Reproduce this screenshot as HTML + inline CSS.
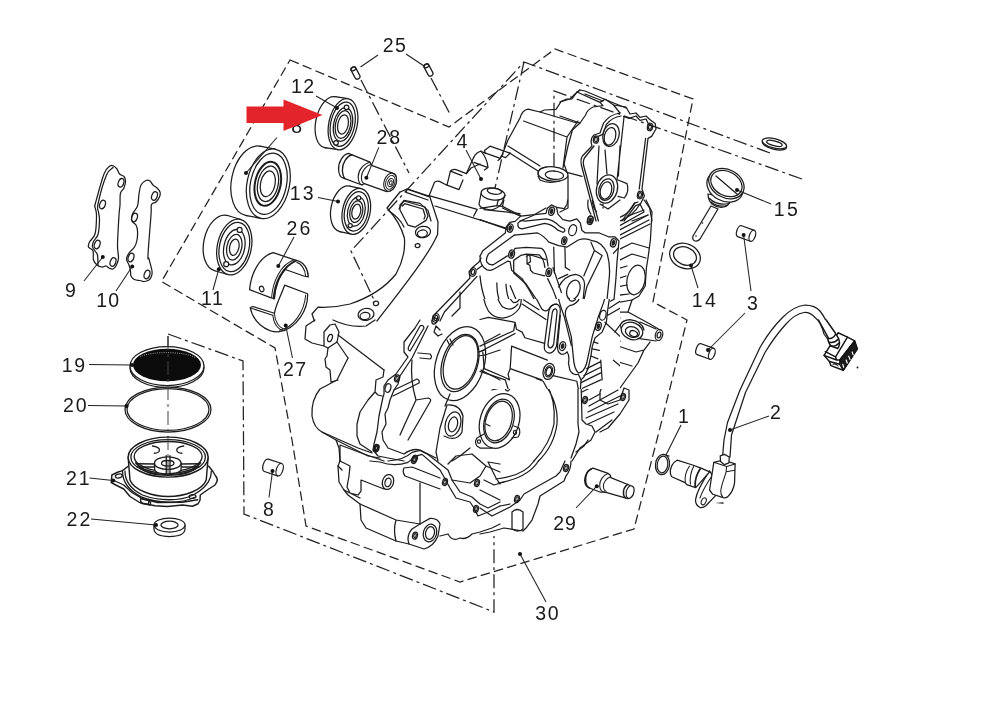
<!DOCTYPE html>
<html><head><meta charset="utf-8"><title>Crankcase exploded view</title>
<style>
html,body{margin:0;padding:0;background:#fff;}
body{width:1000px;height:705px;overflow:hidden;}
svg{display:block;will-change:transform;}
.s{fill:none;stroke:#1c1c1c;stroke-width:1.25;stroke-linecap:round;stroke-linejoin:round;}
.sf{fill:#fff;stroke:#1c1c1c;stroke-width:1.25;stroke-linejoin:round;}
.t{fill:none;stroke:#333;stroke-width:0.8;stroke-linecap:round;stroke-linejoin:round;}
.w{fill:#fff;stroke:none;}
.c{fill:none;stroke:#1c1c1c;stroke-linecap:round;stroke-linejoin:round;}
.ck{fill:#222;stroke:none;}
.cf{fill:#fff;stroke:#1c1c1c;stroke-linecap:round;stroke-linejoin:round;}
.l{fill:none;stroke:#222;stroke-width:1.05;}
.d{fill:#111;stroke:none;}
.da{fill:none;stroke:#222;stroke-width:1.25;stroke-dasharray:9.5 4.3;}
.dd{fill:none;stroke:#222;stroke-width:1.25;stroke-dasharray:14 4 3 4;}
text{font-family:"Liberation Sans",sans-serif;fill:#1a1a1a;}
</style></head><body>
<svg width="1000" height="705" viewBox="0 0 1000 705">
<rect width="1000" height="705" fill="#fff"/>
<g id="dashes">
<path class="da" d="M290,60 L449,127 L555,49 L693,99 L669,220 L653,302 L687,320 L662,420 L634,529 L460,582 L306,526 L292,440 L275,348 L161.5,281.5 Z"/>
<path class="dd" d="M168,334 L243,361 L244,514 L494,612 L494,536"/>
<path class="dd" d="M168,336 L168,476"/>
<path class="dd" d="M361,80 L409,173"/>
<path class="dd" d="M431,78 L451,116"/>
<path class="dd" d="M770,153 L524,62 L351,251 L375,302"/>
<path class="dd" d="M524,62 L495,188"/>
<path class="dd" d="M802,179 L554,91 L554,172"/>
</g>
<g id="crankcase">
<g transform="translate(380 80) scale(0.2000)" style="stroke-width:6.25">
<path class="c" d="M100,560 L135,546 L245,580 L272,512 Q282,502 297,507 L335,526 L352,456 Q362,444 380,448 L432,468 L468,388 Q482,362 505,356 L527,366 L522,352 L550,331 L650,366"/>
<path class="c" d="M505,356 Q535,390 540,438 L522,450 M540,438 L470,412 M432,468 L455,440 L500,420"/>
<path class="c" d="M527,366 L602,392 L606,380 L628,388 L650,366 M602,392 L590,402"/>
<path class="c" d="M335,526 L395,548 L415,500 M352,456 L410,478"/>
<path class="c" d="M245,578 L486,647 L468,681 M275,630 L631,741 M520,648 L700,668"/>
<path class="c" d="M135,546 L130,562 L240,600"/>
<path class="c" d="M606,385 L640,300 L700,190 Q712,150 740,146 L800,160 L822,150 L880,147 L905,108 L950,95 L975,70 L1000,50"/>
<path class="c" d="M800,160 L985,215 M718,205 L935,285 L990,205 M935,285 L915,440"/>
<path class="c" d="M640,330 L800,430"/>
<path class="c" d="M95,645 L120,602 L200,617 L240,652 L255,705"/>
<path class="c" d="M505,570 L495,620 Q500,640 530,645 L555,650 Q600,640 612,610 L625,575"/>
<path class="c" d="M790,470 Q790,440 830,436 M940,480 L940,640 L900,660 M790,480 L800,500 Q840,520 900,505"/>
<path class="c" d="M650,366 L790,455"/>
<path class="c" d="M700,705 L760,680 L830,640 M612,640 L700,680"/>
<ellipse class="c" cx="565" cy="570" rx="60" ry="30" transform="rotate(8 565 570)"/>
<ellipse class="c" cx="572" cy="556" rx="36" ry="15" transform="rotate(8 572 556)"/>
<ellipse class="c" cx="865" cy="470" rx="75" ry="36" transform="rotate(5 865 470)"/>
<ellipse class="c" cx="872" cy="476" rx="46" ry="21" transform="rotate(5 872 476)"/>
</g>
<g transform="translate(560 80) scale(0.2000)" style="stroke-width:6.25">
<path class="c" d="M0,110 L30,96 L60,95 L85,60 L100,50 L125,55 L232,100 L268,125 L330,135 L350,170 L380,165 L400,187 L430,180 L452,200 L476,218 L480,245 L458,282 L440,292 L410,545 L422,580 L402,620 L378,628 L320,705"/>
<path class="c" d="M85,60 L200,112 L225,96 M200,112 L215,128 L165,135 Q135,150 128,175 L100,215 L0,180"/>
<path class="c" d="M125,70 L215,105 M232,100 L330,140 M268,125 L300,165"/>
<path class="c" d="M100,215 L62,250 L40,330 L20,420 L35,462 L110,482"/>
<path class="c" d="M300,165 Q250,172 218,215 L200,265 L170,275 Q148,295 160,330 L112,380 Q100,400 108,430 L180,705"/>
<path class="c" d="M305,180 Q262,185 232,222 L214,272 L190,282 M170,330 L122,390 Q112,410 120,435 L192,705"/>
<path class="c" d="M318,182 L345,192 L380,180 L400,202 L430,195 L440,215 M428,292 L396,545 M390,610 L372,616 L310,705"/>
<path class="c" d="M320,185 L285,500 M300,330 L292,480 M195,330 L185,520 M225,350 L235,470"/>
<path class="c" d="M290,500 L335,518 Q348,555 322,590 L290,582"/>
<path class="c" d="M200,620 L240,645 L300,600 M215,620 L215,640"/>
<path class="c" d="M420,600 L448,640 L460,705 M340,680 L420,650 M360,705 L440,675"/>
<ellipse class="c" cx="255" cy="275" rx="40" ry="58" transform="rotate(15 255 275)"/>
<ellipse class="c" cx="250" cy="282" rx="28" ry="45" transform="rotate(15 250 282)"/>
<ellipse class="c" cx="235" cy="545" rx="52" ry="72" transform="rotate(15 235 545)"/>
<ellipse class="c" cx="232" cy="548" rx="37" ry="55" transform="rotate(15 232 548)"/>
<ellipse class="c" cx="230" cy="552" rx="28" ry="44" transform="rotate(15 230 552)"/>
<ellipse class="c" cx="180" cy="298" rx="13" ry="18" transform="rotate(10 180 298)"/>
<ellipse class="c" cx="180" cy="298" rx="7" ry="11" transform="rotate(10 180 298)"/>
<ellipse class="c" cx="450" cy="235" rx="13" ry="19" transform="rotate(10 450 235)"/>
<ellipse class="c" cx="450" cy="235" rx="7" ry="12" transform="rotate(10 450 235)"/>
<ellipse class="c" cx="400" cy="575" rx="13" ry="19" transform="rotate(10 400 575)"/>
<ellipse class="c" cx="400" cy="575" rx="7" ry="12" transform="rotate(10 400 575)"/>
<ellipse class="c" cx="152" cy="697" rx="13" ry="18" transform="rotate(10 152 697)"/>
</g>
<g transform="translate(300 180) scale(0.2000)" style="stroke-width:6.25">
<path class="c" d="M500,60 L435,140 Q500,210 522,290 Q530,380 480,470 Q400,570 250,620 Q170,640 90,636 L60,670 L72,705"/>
<path class="c" d="M442,152 Q500,190 520,235"/>
<path class="c" d="M540,46 L650,86 L690,210 L688,272 C640,380 520,530 385,705"/>
<path class="c" d="M500,125 L520,105 L625,135 L640,180 L630,202 L575,236 L540,226 L500,150 Z"/>
<path class="c" d="M512,130 L524,118 L615,145 L626,180 L620,195"/>
<path class="c" d="M905,390 L895,410 L865,435 L845,460 L850,490 L690,655 L665,680 L660,705"/>
<path class="c" d="M908,430 L885,447 M885,482 L722,660 L700,705"/>
<path class="c" d="M800,560 L800,640 L760,680"/>
<ellipse class="c" cx="615" cy="260" rx="38" ry="28" transform="rotate(-10 615 260)"/>
<ellipse class="c" cx="612" cy="268" rx="25" ry="18" transform="rotate(-10 612 268)"/>
<ellipse class="c" cx="588" cy="328" rx="12" ry="10" transform="rotate(-10 588 328)"/>
<ellipse class="c" cx="380" cy="617" rx="13" ry="11" transform="rotate(-10 380 617)"/>
<ellipse class="c" cx="330" cy="672" rx="40" ry="30" transform="rotate(-10 330 672)"/>
<ellipse class="c" cx="325" cy="680" rx="25" ry="18" transform="rotate(-10 325 680)"/>
<ellipse class="c" cx="865" cy="460" rx="15" ry="22" transform="rotate(15 865 460)"/>
<ellipse class="c" cx="865" cy="460" rx="8" ry="13" transform="rotate(15 865 460)"/>
<ellipse class="c" cx="680" cy="690" rx="15" ry="22" transform="rotate(15 680 690)"/>
<ellipse class="c" cx="680" cy="690" rx="8" ry="13" transform="rotate(15 680 690)"/>
</g>
<clipPath id="cl1"><rect x="620" y="190" width="80" height="155"/></clipPath><g clip-path="url(#cl1)">
<g transform="translate(480 200) scale(0.2000)" style="stroke-width:6.25">
<path class="c" d="M0,280 L25,240 L120,180 L135,120 L185,95 L335,72 L345,45 L370,38 L385,70 L415,100 L465,95 L495,118 L520,162 L600,165 L655,185 L688,205 L688,240 L665,285 L655,400 L640,500 L622,560 L610,640 L590,705"/>
<path class="c" d="M190,115 Q200,100 215,105 L330,95 L395,150 L430,160 M190,115 Q185,135 205,135 L320,120 L385,175 L410,185"/>
<path class="c" d="M0,335 L40,335 L140,275 Q150,240 175,245 L200,255 L330,260 L350,300 L365,340 L350,390 L330,395"/>
<path class="c" d="M20,290 L40,260 L130,205 M150,170 L165,240 M170,295 L150,330 L160,380 L240,440 L290,520 L330,560 L360,600"/>
<path class="c" d="M195,280 L320,285 L335,335 M180,300 L175,340 L250,400 L300,480"/>
<path class="c" d="M440,230 L520,200 L560,195 L625,230 L640,290 L600,480 L580,560 L570,640 L560,705"/>
<path class="c" d="M365,215 L375,385 L400,465 L420,455 M425,235 L428,340 L450,380"/>
<path class="c" d="M400,465 Q420,400 470,385 Q525,380 520,430 L500,520 L440,600"/>
<path class="c" d="M560,235 L520,330 L525,400 M605,285 L525,440 L480,560 L445,705"/>
<path class="c" d="M390,520 L440,610 L470,705 M330,560 Q340,530 365,530 Q390,535 385,570 L370,705 M350,585 L338,705"/>
<path class="c" d="M20,380 Q5,470 60,560 Q110,600 180,590 M90,400 Q70,480 120,570 L200,600 M130,410 Q130,470 160,510 L220,560"/>
<path class="c" d="M0,560 L40,600 L180,590 M40,600 L20,705 M220,560 L300,600 L330,705"/>
<path class="c" d="M235,290 L250,275 L330,300 M240,330 L260,345 L265,390 L320,400 M250,275 L250,330 L235,330 L235,290"/>
<path class="c" d="M830,0 L860,60 L852,200 L840,290 L832,340 L826,430 L795,480 L760,500 L740,560 L850,620 L900,650"/>
<path class="c" d="M660,150 L820,60 M670,165 L840,75 M690,180 L845,100 M700,195 L850,120 M820,60 L800,20"/>
<path class="c" d="M680,310 L760,270 L830,290 M690,250 L760,215 L845,240"/>
<path class="c" d="M670,350 L735,330 M665,400 L730,380 M660,440 L735,425 M655,480 L745,470 M645,520 L760,500 M640,560 L740,560 M630,600 L700,590"/>
<path class="c" d="M385,75 L400,30 L440,20 L450,0 M520,100 L545,75 L560,20 M570,0 L565,40 Q600,110 680,110 Q760,90 800,20"/>
<path class="c" d="M585,10 Q610,90 680,92 Q740,80 775,15 M600,30 L640,40 L660,10"/>
<path class="c" d="M800,610 L880,645 M790,692 L880,705 M700,640 Q700,600 750,598 Q810,605 820,650"/>
<ellipse class="c" cx="150" cy="145" rx="14" ry="21" transform="rotate(15 150 145)"/>
<ellipse class="c" cx="150" cy="145" rx="8" ry="13" transform="rotate(15 150 145)"/>
<ellipse class="c" cx="358" cy="58" rx="14" ry="21" transform="rotate(15 358 58)"/>
<ellipse class="c" cx="358" cy="58" rx="8" ry="13" transform="rotate(15 358 58)"/>
<ellipse class="c" cx="160" cy="270" rx="14" ry="21" transform="rotate(15 160 270)"/>
<ellipse class="c" cx="160" cy="270" rx="8" ry="13" transform="rotate(15 160 270)"/>
<ellipse class="c" cx="345" cy="365" rx="14" ry="21" transform="rotate(15 345 365)"/>
<ellipse class="c" cx="345" cy="365" rx="8" ry="13" transform="rotate(15 345 365)"/>
<ellipse class="c" cx="420" cy="200" rx="14" ry="21" transform="rotate(15 420 200)"/>
<ellipse class="c" cx="420" cy="200" rx="8" ry="13" transform="rotate(15 420 200)"/>
<ellipse class="c" cx="462" cy="155" rx="20" ry="30" transform="rotate(15 462 155)"/>
<ellipse class="c" cx="550" cy="100" rx="14" ry="21" transform="rotate(15 550 100)"/>
<ellipse class="c" cx="550" cy="100" rx="8" ry="13" transform="rotate(15 550 100)"/>
<ellipse class="c" cx="668" cy="215" rx="14" ry="21" transform="rotate(15 668 215)"/>
<ellipse class="c" cx="668" cy="215" rx="8" ry="13" transform="rotate(15 668 215)"/>
<ellipse class="c" cx="590" cy="630" rx="14" ry="21" transform="rotate(15 590 630)"/>
<ellipse class="c" cx="590" cy="630" rx="8" ry="13" transform="rotate(15 590 630)"/>
<ellipse class="c" cx="615" cy="570" rx="11" ry="17" transform="rotate(15 615 570)"/>
<ellipse class="c" cx="470" cy="450" rx="33" ry="58" transform="rotate(18 470 450)"/>
<ellipse class="c" cx="780" cy="400" rx="45" ry="75" transform="rotate(12 780 400)"/>
<ellipse class="c" cx="760" cy="655" rx="55" ry="42" transform="rotate(20 760 655)"/>
<ellipse class="c" cx="762" cy="660" rx="36" ry="26" transform="rotate(20 762 660)"/>
<ellipse class="c" cx="768" cy="668" rx="20" ry="14" transform="rotate(20 768 668)"/>
<ellipse class="c" cx="895" cy="675" rx="18" ry="28" transform="rotate(15 895 675)"/>
<ellipse class="c" cx="895" cy="675" rx="9" ry="15" transform="rotate(15 895 675)"/>
</g>
</g>
<g transform="translate(300 320) scale(0.2000)" style="stroke-width:6.25">
<path class="c" d="M30,30 L75,0 M30,30 L25,95 L60,115 L120,130 M120,60 L150,25 L175,20 L195,60 L185,110 L140,140 L120,130 L120,60"/>
<path class="c" d="M165,0 Q250,40 330,30 L375,0 M190,75 L420,250 M185,110 L240,190"/>
<path class="c" d="M140,140 L135,180 L125,195 L130,235 L150,250 L155,310 L190,300"/>
<path class="c" d="M240,190 L215,240 L185,300 L100,345 Q55,400 60,480 Q70,540 110,560 L180,600 L195,640 L200,705"/>
<path class="c" d="M420,250 L415,285 L380,300 L375,360 L390,375 L410,380 M375,360 L340,400 L300,460 L285,520 L285,580 L300,620 L360,660"/>
<path class="c" d="M110,560 L290,640 L360,665 M180,600 L340,680 L400,690"/>
<path class="c" d="M600,0 L575,40 L520,110 L520,160 L540,185 L480,270 L440,300 L420,330 L420,370 L415,385 L395,480 L385,560 L370,620 L365,650 L390,680 L440,690 L520,705"/>
<path class="c" d="M640,30 L560,190 L500,280 L490,320 L470,350 L450,400 L440,440 L425,470 L430,520 L410,560 L415,600 L440,640 L520,670 Q560,640 600,650 L680,690"/>
<path class="c" d="M545,130 Q535,150 550,155 L620,40 Q615,20 600,30 Z"/>
<path class="c" d="M590,165 L650,170 Q665,185 650,195 L600,190 M470,350 L585,295 Q600,300 595,315 L465,380"/>
<path class="c" d="M560,200 Q550,300 580,400 L640,390 M580,400 L520,530 L500,575 M640,390 Q660,395 650,410 L540,600"/>
<path class="c" d="M735,100 L750,130 M750,95 L765,125 M890,160 L925,150 M890,180 L925,175"/>
<path class="c" d="M700,50 L680,30 L670,60 L690,80 L710,70"/>
<path class="c" d="M735,425 Q800,420 815,480 L810,560 Q790,600 745,590 L720,580 M735,425 L700,540 L680,660 L690,705 M750,370 L725,430"/>
<path class="c" d="M920,570 L885,590 Q870,610 885,630 L900,640 L960,640 M930,520 L950,530"/>
<path class="c" d="M905,250 L1000,300 M925,175 L1000,150 M925,110 L1000,70"/>
<path class="c" d="M760,705 L800,680 L850,640"/>
<ellipse class="c" cx="150" cy="90" rx="11" ry="19" transform="rotate(20 150 90)"/>
<ellipse class="c" cx="485" cy="292" rx="12" ry="18" transform="rotate(15 485 292)"/>
<ellipse class="c" cx="485" cy="292" rx="6" ry="11" transform="rotate(15 485 292)"/>
<ellipse class="c" cx="440" cy="340" rx="14" ry="22" transform="rotate(15 440 340)"/>
<ellipse class="c" cx="383" cy="640" rx="12" ry="18" transform="rotate(15 383 640)"/>
<ellipse class="c" cx="383" cy="640" rx="6" ry="11" transform="rotate(15 383 640)"/>
<ellipse class="c" cx="575" cy="692" rx="12" ry="16" transform="rotate(15 575 692)"/>
<ellipse class="c" cx="672" cy="5" rx="12" ry="16" transform="rotate(15 672 5)"/>
<ellipse class="c" cx="800" cy="218" rx="120" ry="190" transform="rotate(18 800 218)"/>
<ellipse class="c" cx="800" cy="215" rx="88" ry="148" transform="rotate(18 800 215)"/>
<ellipse class="c" cx="803" cy="212" rx="80" ry="138" transform="rotate(18 803 212)"/>
<ellipse class="c" cx="765" cy="520" rx="38" ry="62" transform="rotate(15 765 520)"/>
<ellipse class="c" cx="765" cy="522" rx="22" ry="38" transform="rotate(15 765 522)"/>
<ellipse class="c" cx="895" cy="608" rx="8" ry="9"/>
</g>
<clipPath id="cl2"><rect x="620" y="320" width="80" height="145"/><rect x="470" y="389" width="150" height="76"/></clipPath><g clip-path="url(#cl2)">
<g transform="translate(480 320) scale(0.2000)" style="stroke-width:6.25">
<path class="c" d="M0,135 L155,90 L150,140 L165,135 M150,140 L140,235 L120,290 L150,330 M165,135 L330,215 M140,235 L280,290 L470,300 M155,90 L215,60 L320,120"/>
<path class="c" d="M0,245 L60,265 L100,270 L115,300 L140,315 M60,350 L120,335"/>
<path class="c" d="M280,290 Q300,310 330,315 Q380,400 370,520 Q350,620 270,705 M300,292 Q395,400 385,520 Q370,630 292,705"/>
<path class="c" d="M470,300 L490,320 L490,520 L495,560 L480,620 L455,690 M505,300 L510,500 L530,520 L560,530 L575,560 L555,600 L500,640 L460,705"/>
<path class="c" d="M345,105 L320,90 M345,105 Q320,140 345,150 Q370,140 375,100 L385,105 M358,105 Q345,125 352,130 Q362,120 364,105"/>
<path class="c" d="M445,105 L470,130 L445,170 L450,240 Q480,290 520,250 L540,190 L545,120 L548,105"/>
<path class="c" d="M395,105 L395,150 L430,160 L440,200 L440,250 L470,300"/>
<path class="c" d="M510,300 L600,250 M510,330 L610,275 M510,360 L590,320 M545,400 L600,370 M545,430 L690,350 M540,460 L700,380 M530,490 L690,420 M540,520 L670,460 M580,560 L660,500"/>
<path class="c" d="M560,110 L590,115 M560,140 L590,150 M555,180 L590,190 M545,220 L590,230"/>
<path class="c" d="M690,130 L660,200 L600,360 L600,400 L640,420 L700,400 L720,340 L745,350 L745,400 L700,470 L640,540 L600,560"/>
<path class="c" d="M700,340 L790,215 L820,150 L850,110 M690,130 L780,160 L820,150 M660,200 L760,230 M700,105 L690,130"/>
<path class="c" d="M170,530 L195,540 Q205,565 190,585 L160,590"/>
<path class="c" d="M880,705 Q900,665 945,680"/>
<ellipse class="c" cx="340" cy="250" rx="28" ry="42" transform="rotate(15 340 250)"/>
<ellipse class="c" cx="340" cy="250" rx="16" ry="26" transform="rotate(15 340 250)"/>
<ellipse class="c" cx="140" cy="335" rx="12" ry="20" transform="rotate(15 140 335)"/>
<ellipse class="c" cx="98" cy="505" rx="97" ry="140" transform="rotate(18 98 505)"/>
<ellipse class="c" cx="95" cy="505" rx="72" ry="112" transform="rotate(18 95 505)"/>
<ellipse class="c" cx="93" cy="505" rx="64" ry="102" transform="rotate(18 93 505)"/>
<ellipse class="c" cx="175" cy="562" rx="8" ry="10"/>
<ellipse class="c" cx="410" cy="130" rx="12" ry="18" transform="rotate(15 410 130)"/>
<ellipse class="c" cx="410" cy="130" rx="6" ry="11" transform="rotate(15 410 130)"/>
<ellipse class="c" cx="525" cy="400" rx="12" ry="18" transform="rotate(15 525 400)"/>
<ellipse class="c" cx="525" cy="400" rx="6" ry="11" transform="rotate(15 525 400)"/>
<ellipse class="c" cx="715" cy="385" rx="12" ry="18" transform="rotate(15 715 385)"/>
<ellipse class="c" cx="715" cy="385" rx="6" ry="11" transform="rotate(15 715 385)"/>
</g>
</g>
<g transform="translate(300 440) scale(0.2000)" style="stroke-width:6.25">
<path class="c" d="M200,105 L190,130 L195,210 L220,250 L240,275 L300,320 L305,400 L330,440 L480,505 L545,520 L620,545 Q670,530 690,480 L700,420 Q690,390 650,392 L600,420"/>
<path class="c" d="M200,105 L250,130 L245,180 L235,235 L250,265 L290,275 L305,255 L305,200 L420,245 M190,130 L210,150 M220,250 L300,290"/>
<path class="c" d="M300,320 L480,400 L600,420 M480,400 Q465,450 480,505 M545,520 Q530,480 560,445 L600,420"/>
<path class="c" d="M600,215 L600,420 M520,140 Q510,160 525,180 L700,245 M520,140 L560,135 L700,190"/>
<path class="c" d="M350,105 L400,110 Q470,135 540,112 L575,82 L610,72 L700,150 L720,185 L750,240 L780,290 L850,310 L870,340 L890,380 L940,360 L1000,330"/>
<path class="c" d="M440,105 Q520,100 560,62 L600,52 L640,72 L740,150 L760,200 L800,260 L860,285 L900,320 L940,340 L1000,310"/>
<path class="c" d="M740,120 L780,80 L860,70 L930,130 L1000,160 M760,200 L850,215 L900,180 L930,130 M900,250 L1000,300"/>
<path class="c" d="M700,480 L740,470 Q760,510 800,490 Q830,500 860,470 L900,460 L960,440 L1000,420"/>
<path class="c" d="M200,105 L200,25 L320,70 L420,105"/>
<ellipse class="c" cx="440" cy="210" rx="28" ry="38" transform="rotate(15 440 210)"/>
<ellipse class="c" cx="440" cy="212" rx="15" ry="22" transform="rotate(15 440 212)"/>
<ellipse class="c" cx="650" cy="465" rx="33" ry="45" transform="rotate(15 650 465)"/>
<ellipse class="c" cx="650" cy="465" rx="22" ry="32" transform="rotate(15 650 465)"/>
<ellipse class="c" cx="575" cy="478" rx="12" ry="18" transform="rotate(15 575 478)"/>
<ellipse class="c" cx="575" cy="478" rx="6" ry="10" transform="rotate(15 575 478)"/>
<ellipse class="c" cx="570" cy="100" rx="12" ry="18" transform="rotate(15 570 100)"/>
<ellipse class="c" cx="570" cy="100" rx="6" ry="11" transform="rotate(15 570 100)"/>
<ellipse class="c" cx="725" cy="210" rx="12" ry="18" transform="rotate(15 725 210)"/>
<ellipse class="c" cx="725" cy="210" rx="6" ry="11" transform="rotate(15 725 210)"/>
<ellipse class="c" cx="885" cy="215" rx="12" ry="18" transform="rotate(15 885 215)"/>
<ellipse class="c" cx="885" cy="215" rx="6" ry="11" transform="rotate(15 885 215)"/>
<ellipse class="c" cx="880" cy="345" rx="12" ry="18" transform="rotate(15 880 345)"/>
<ellipse class="c" cx="880" cy="345" rx="6" ry="11" transform="rotate(15 880 345)"/>
<ellipse class="c" cx="380" cy="42" rx="12" ry="18" transform="rotate(15 380 42)"/>
<ellipse class="c" cx="380" cy="42" rx="6" ry="11" transform="rotate(15 380 42)"/>
</g>
<g transform="translate(480 440) scale(0.2000)" style="stroke-width:6.25">
<path class="c" d="M292,105 Q240,190 90,215 M270,105 Q220,180 80,195"/>
<path class="c" d="M455,105 Q455,150 430,180 L420,205 L300,280 L290,320 L260,400 L230,440 L215,455 L120,440 L50,460 L0,470"/>
<path class="c" d="M425,105 L400,160 L380,180 L220,270 L200,300 L150,335 L60,380 L0,340"/>
<path class="c" d="M160,360 Q185,335 215,360 L215,445 Q190,465 160,445 Z"/>
<path class="c" d="M100,120 L40,110 L80,190 L100,220 M20,200 L70,225 L120,210 M100,330 L150,320"/>
<path class="c" d="M480,60 L520,30 L540,0"/>
<ellipse class="c" cx="430" cy="140" rx="12" ry="18" transform="rotate(15 430 140)"/>
<ellipse class="c" cx="430" cy="140" rx="6" ry="11" transform="rotate(15 430 140)"/>
<ellipse class="c" cx="185" cy="295" rx="12" ry="18" transform="rotate(15 185 295)"/>
<ellipse class="c" cx="185" cy="295" rx="6" ry="11" transform="rotate(15 185 295)"/>
</g>
<clipPath id="cl3"><rect x="470" y="190" width="150" height="109"/></clipPath><g clip-path="url(#cl3)">
<g transform="translate(480 200) scale(0.1404)" style="stroke-width:8.90">
<path class="c" d="M0,400 L20,362 L180,235 L188,190 L212,160 L250,152 L290,115 L470,95 L480,58 L508,35 L545,52 L555,100 L590,140 L640,150 L690,135 L715,165 L725,215 L750,235 L850,235 L915,262 L960,262 L990,292 L985,342 L950,380"/>
<path class="c" d="M270,165 Q290,140 320,150 L470,135 Q520,140 570,190 L600,205 Q612,225 590,230 L555,215 Q510,172 460,167 L300,205 Q265,205 270,165 Z"/>
<path class="c" d="M245,250 L410,235 Q455,255 490,300 L560,325 L620,335 L700,285 Q750,268 800,290 Q870,300 905,380 Q930,460 920,560 L905,705"/>
<path class="c" d="M245,250 L60,385 Q38,420 50,445 Q70,470 100,458 L195,398"/>
<path class="c" d="M0,400 Q0,470 50,498 Q80,505 100,492 L200,435 L215,440 L225,500 L300,560 L350,640 L385,705"/>
<path class="c" d="M250,345 L330,338 L440,345 Q475,370 485,470 M250,345 L235,370 M240,430 L290,395 L330,385 L420,390 Q455,415 462,480 M240,430 L240,520 L330,600 L400,705"/>
<path class="c" d="M520,482 L560,600 L580,660 M482,560 L520,640 L545,705 M560,620 Q600,540 680,530 Q742,540 745,600 L735,705"/>
<path class="c" d="M525,335 L530,520 M605,340 L608,480 L640,500 M560,560 L625,530"/>
<path class="c" d="M790,300 L815,360 L870,395 L760,620 L742,705 M815,360 L740,540"/>
<path class="c" d="M330,400 L355,390 L470,425 M335,400 L335,455 L355,465 L360,500 L380,520 L460,540 M355,390 L360,440 L335,455"/>
<path class="c" d="M0,540 Q10,640 35,705 M120,590 Q120,660 135,705 M185,600 Q190,670 205,705 M215,610 L255,705"/>
<path class="c" d="M0,60 L120,40 L160,45 L290,110 M0,140 L195,210 M160,45 L170,0 M120,40 L130,0"/>
<path class="c" d="M545,52 L600,62 L620,30 L625,0 M770,0 Q760,60 790,100 M800,0 Q800,50 830,85"/>
<path class="c" d="M985,342 L975,450 L968,560 L955,705"/>
<ellipse class="c" cx="215" cy="200" rx="20" ry="30" transform="rotate(15 215 200)"/>
<ellipse class="ck" cx="215" cy="200" rx="13" ry="21" transform="rotate(15 215 200)"/>
<ellipse class="c" cx="510" cy="80" rx="20" ry="30" transform="rotate(15 510 80)"/>
<ellipse class="ck" cx="510" cy="80" rx="13" ry="21" transform="rotate(15 510 80)"/>
<ellipse class="c" cx="225" cy="385" rx="20" ry="30" transform="rotate(15 225 385)"/>
<ellipse class="ck" cx="225" cy="385" rx="13" ry="21" transform="rotate(15 225 385)"/>
<ellipse class="c" cx="490" cy="515" rx="20" ry="30" transform="rotate(15 490 515)"/>
<ellipse class="ck" cx="490" cy="515" rx="13" ry="21" transform="rotate(15 490 515)"/>
<ellipse class="c" cx="600" cy="290" rx="18" ry="28" transform="rotate(15 600 290)"/>
<ellipse class="ck" cx="600" cy="290" rx="12" ry="20" transform="rotate(15 600 290)"/>
<ellipse class="c" cx="785" cy="145" rx="20" ry="30" transform="rotate(15 785 145)"/>
<ellipse class="ck" cx="785" cy="145" rx="13" ry="21" transform="rotate(15 785 145)"/>
<ellipse class="c" cx="950" cy="305" rx="20" ry="30" transform="rotate(15 950 305)"/>
<ellipse class="ck" cx="950" cy="305" rx="13" ry="21" transform="rotate(15 950 305)"/>
<ellipse class="c" cx="660" cy="215" rx="27" ry="40" transform="rotate(18 660 215)"/>
<ellipse class="c" cx="665" cy="640" rx="45" ry="72" transform="rotate(18 665 640)"/>
</g>
</g>
<clipPath id="cl4"><rect x="470" y="299" width="150" height="90"/></clipPath><g clip-path="url(#cl4)">
<g transform="translate(480 290) scale(0.1404)" style="stroke-width:8.90">
<path class="c" d="M370,0 Q400,60 440,135 Q470,165 495,130 Q510,100 545,100"/>
<path class="c" d="M545,100 Q575,110 572,150 L545,400 Q525,450 490,450 Q455,440 458,400 L490,150 Q500,100 545,100 Z"/>
<path class="c" d="M540,135 Q552,140 548,165 L525,385 Q515,415 498,412 Q480,405 485,380 L515,160 Q522,132 540,135Z"/>
<path class="c" d="M572,180 L552,400 Q550,440 575,455 Q600,465 620,440 Q640,470 630,520 L640,570 Q660,610 700,600 L720,640 L715,705"/>
<path class="c" d="M545,0 L565,85 Q575,120 600,190 L635,330 L650,395"/>
<path class="c" d="M730,0 L700,75 Q670,110 640,110 Q600,130 610,190 L650,330 L665,480 Q670,560 700,590 Q740,590 760,520 L800,330 L840,200 L880,90 L905,0"/>
<path class="c" d="M945,0 L920,70 L910,140 L900,230 L870,300 L820,340 L800,400 L790,470 L770,560 L740,620 L720,640"/>
<path class="c" d="M0,210 L60,195 L250,230 L260,280 L300,300 L320,340 L460,380 M250,230 L240,290 L0,400 M0,440 L250,310"/>
<path class="c" d="M225,400 L215,560 L200,600 L210,640 L170,620 L30,560 L20,440 M225,400 L480,500 M215,560 L440,640"/>
<path class="c" d="M0,580 L180,640 L200,705 M400,630 L450,650 L480,705 M520,610 L690,650 L700,705"/>
<path class="c" d="M20,0 Q20,80 60,150 Q100,200 160,200 Q240,190 280,130 Q300,90 290,40 L270,0 M110,0 Q120,70 160,120 Q220,160 270,100 M200,0 Q200,60 240,90 Q280,90 290,40"/>
<path class="c" d="M300,100 L470,210 M310,70 L420,140"/>
<path class="c" d="M930,30 L997,0 M930,80 L997,40 M920,130 L997,80 M910,180 L997,130 M890,230 L997,330 M997,250 L960,300"/>
<path class="c" d="M810,370 L840,380 M800,420 L850,430 M790,470 L840,490 M760,560 L860,510 M740,610 L860,550 M720,660 L860,590 M730,700 L860,640 M950,500 L997,540 M860,500 L870,640"/>
<ellipse class="c" cx="588" cy="400" rx="22" ry="32" transform="rotate(15 588 400)"/>
<ellipse class="ck" cx="588" cy="400" rx="13" ry="21" transform="rotate(15 588 400)"/>
<ellipse class="c" cx="843" cy="258" rx="20" ry="30" transform="rotate(15 843 258)"/>
<ellipse class="ck" cx="843" cy="258" rx="13" ry="21" transform="rotate(15 843 258)"/>
<ellipse class="c" cx="875" cy="180" rx="22" ry="36" transform="rotate(15 875 180)"/>
<ellipse class="c" cx="490" cy="580" rx="40" ry="58" transform="rotate(15 490 580)"/>
<ellipse class="c" cx="490" cy="580" rx="26" ry="40" transform="rotate(15 490 580)"/>
<ellipse class="c" cx="490" cy="580" rx="18" ry="30" transform="rotate(15 490 580)"/>
<ellipse class="c" cx="660" cy="40" rx="30" ry="40" transform="rotate(15 660 40)"/>
</g>
</g>
</g>
<g id="plates">
<path class="sf" d="M110.0,166.0 C111.6,164.7 112.3,165.5 113.5,166.0 C114.7,166.5 116.0,167.7 117.0,169.0 C118.0,170.3 118.3,172.8 119.5,174.0 C120.7,175.2 123.0,175.3 124.0,176.5 C125.0,177.7 125.5,179.1 125.5,181.0 C125.5,182.9 124.8,186.0 124.0,188.0 C123.2,190.0 121.2,190.2 120.5,193.0 C119.8,195.8 120.2,201.3 120.0,205.0 C119.8,208.7 119.4,208.3 119.0,215.0 C118.6,221.7 117.6,237.8 117.5,245.0 C117.4,252.2 118.7,254.7 118.5,258.0 C118.3,261.3 117.4,263.2 116.5,265.0 C115.6,266.8 114.2,268.5 113.0,269.0 C111.8,269.5 110.2,268.5 109.0,268.0 C107.8,267.5 107.2,266.2 106.0,266.0 C104.8,265.8 103.5,267.2 102.0,267.0 C100.5,266.8 98.4,266.2 97.0,265.0 C95.6,263.8 94.2,262.3 93.5,260.0 C92.8,257.7 93.8,253.2 93.0,251.0 C92.2,248.8 89.1,248.5 88.5,247.0 C87.9,245.5 88.4,244.2 89.5,242.0 C90.6,239.8 93.8,238.5 95.0,234.0 C96.2,229.5 96.5,219.5 96.5,215.0 C96.5,210.5 95.2,209.0 95.0,207.0 C94.8,205.0 94.0,208.5 95.5,203.0 C97.0,197.5 101.6,180.2 104.0,174.0 C106.4,167.8 108.4,167.3 110.0,166.0Z"/>
<path class="s" d="M113.0,167.5 C111.9,168.8 109.0,168.9 106.5,175.0 C104.0,181.1 99.3,197.8 98.0,204.0 C96.7,210.2 98.2,209.3 98.5,212.0 C98.8,214.7 99.6,216.2 99.5,220.0 C99.4,223.8 99.0,230.9 98.0,234.5 C97.0,238.1 94.4,239.4 93.5,241.5 C92.6,243.6 92.2,245.4 92.5,247.0 C92.8,248.6 94.2,249.7 95.0,251.0 C95.8,252.3 97.0,252.7 97.5,255.0 C98.0,257.3 97.9,263.3 98.0,265.0"/>
<ellipse class="s" cx="121" cy="182.8" rx="2.7" ry="4.4" transform="rotate(20 121 182.8)" />
<ellipse class="s" cx="102.5" cy="204.5" rx="2.7" ry="4.4" transform="rotate(20 102.5 204.5)" />
<ellipse class="s" cx="97.2" cy="244.5" rx="2.7" ry="4.4" transform="rotate(20 97.2 244.5)" />
<ellipse class="s" cx="113" cy="262" rx="2.7" ry="4.4" transform="rotate(20 113 262)" />
<path class="sf" d="M146.0,180.5 C147.5,179.8 148.8,180.2 150.0,181.0 C151.2,181.8 151.8,183.8 153.0,185.0 C154.2,186.2 155.8,186.8 157.0,188.0 C158.2,189.2 159.6,190.5 160.0,192.0 C160.4,193.5 160.2,195.3 159.5,197.0 C158.8,198.7 157.3,200.8 156.0,202.0 C154.7,203.2 152.3,202.3 151.5,204.5 C150.7,206.7 151.6,206.6 151.0,215.0 C150.4,223.4 148.3,247.7 148.0,255.0 C147.7,262.3 148.3,256.3 149.0,259.0 C149.7,261.7 151.6,268.2 152.0,271.0 C152.4,273.8 152.0,274.5 151.5,276.0 C151.0,277.5 150.2,279.1 149.0,280.0 C147.8,280.9 145.5,281.4 144.0,281.5 C142.5,281.6 141.6,280.8 140.0,280.5 C138.4,280.2 136.0,280.2 134.5,279.5 C133.0,278.8 131.7,277.4 131.0,276.0 C130.3,274.6 130.8,272.8 130.5,271.0 C130.2,269.2 129.7,267.0 129.0,265.0 C128.3,263.0 126.5,261.0 126.5,259.0 C126.5,257.0 127.7,255.0 129.0,253.0 C130.3,251.0 133.2,249.2 134.5,247.0 C135.8,244.8 136.5,242.7 137.0,240.0 C137.5,237.3 137.7,233.5 137.5,231.0 C137.3,228.5 136.9,226.7 136.0,225.0 C135.1,223.3 132.6,222.8 132.0,221.0 C131.4,219.2 131.6,216.5 132.5,214.0 C133.4,211.5 136.4,209.3 137.5,206.0 C138.6,202.7 138.4,197.5 139.0,194.0 C139.6,190.5 139.8,187.2 141.0,185.0 C142.2,182.8 144.5,181.2 146.0,180.5Z"/>
<ellipse class="s" cx="154.5" cy="196" rx="2.7" ry="4.4" transform="rotate(20 154.5 196)" />
<ellipse class="s" cx="134.5" cy="217.5" rx="2.7" ry="4.4" transform="rotate(20 134.5 217.5)" />
<ellipse class="s" cx="131" cy="257.5" rx="2.7" ry="4.4" transform="rotate(20 131 257.5)" />
<ellipse class="s" cx="147" cy="274.5" rx="2.7" ry="4.4" transform="rotate(20 147 274.5)" />
</g>
<g id="bearings">
<ellipse class="sf" cx="252.8" cy="180.8" rx="21.2" ry="35.3" transform="rotate(12 252.8 180.8)" />
<path class="w" d="M275.4,149.2 L259.9,146.2 L245.7,215.4 L261.2,218.4Z"/>
<path class="s" d="M275.4,149.2 L259.9,146.2"/>
<path class="s" d="M261.2,218.4 L245.7,215.4"/>
<ellipse class="sf" cx="268.3" cy="183.8" rx="21.2" ry="35.3" transform="rotate(12 268.3 183.8)" />
<ellipse class="s" cx="268.5" cy="183.8" rx="18" ry="31" transform="rotate(12 268.5 183.8)" />
<ellipse class="s" cx="267.8" cy="183.8" rx="12.8" ry="22.3" transform="rotate(12 267.8 183.8)" style="stroke-width:2"/>
<ellipse class="s" cx="268.0" cy="183.8" rx="10.2" ry="18" transform="rotate(12 268.0 183.8)" />
<ellipse class="s" cx="267.8" cy="183.8" rx="7.3" ry="13" transform="rotate(12 267.8 183.8)" />
<ellipse class="sf" cx="220.8" cy="243" rx="17" ry="28.3" transform="rotate(12 220.8 243)" />
<path class="w" d="M241.0,219.5 L227.5,215.5 L214.1,270.5 L227.6,274.5Z"/>
<path class="s" d="M241.0,219.5 L227.5,215.5"/>
<path class="s" d="M227.6,274.5 L214.1,270.5"/>
<ellipse class="sf" cx="234.3" cy="247" rx="17" ry="28.3" transform="rotate(12 234.3 247)" />
<ellipse class="s" cx="234.3" cy="247" rx="14.8" ry="25" transform="rotate(12 234.3 247)" />
<ellipse class="s" cx="234.3" cy="247.2" rx="10.4" ry="18" transform="rotate(12 234.3 247.2)" />
<ellipse class="s" cx="234.3" cy="247.2" rx="7.4" ry="13" transform="rotate(12 234.3 247.2)" />
<ellipse class="s" cx="234.3" cy="247.2" rx="4.6" ry="8.3" transform="rotate(12 234.3 247.2)" />
<circle class="sf" cx="239.6" cy="229.9" r="2.5"/>
<circle class="sf" cx="226.2" cy="264.2" r="2.5"/>
<ellipse class="sf" cx="330" cy="122.2" rx="14.2" ry="26" transform="rotate(12 330 122.2)" />
<path class="w" d="M348.0,98.7 L335.0,96.7 L325.0,147.7 L338.0,149.7Z"/>
<path class="s" d="M348.0,98.7 L335.0,96.7"/>
<path class="s" d="M338.0,149.7 L325.0,147.7"/>
<ellipse class="sf" cx="343" cy="124.2" rx="14.2" ry="26" transform="rotate(12 343 124.2)" />
<ellipse class="s" cx="342.7" cy="124.2" rx="12" ry="22.5" transform="rotate(12 342.7 124.2)" />
<ellipse class="s" cx="343" cy="124.5" rx="9.3" ry="17" transform="rotate(12 343 124.5)" />
<ellipse class="s" cx="343" cy="124.5" rx="7.5" ry="14" transform="rotate(12 343 124.5)" />
<ellipse class="s" cx="343" cy="124.5" rx="5.2" ry="9.8" transform="rotate(12 343 124.5)" />
<circle class="sf" cx="346.5" cy="107.3" r="2.3"/>
<circle class="sf" cx="336" cy="142.8" r="2.3"/>
<ellipse class="sf" cx="344.8" cy="208.9" rx="13.8" ry="23.3" transform="rotate(12 344.8 208.9)" />
<path class="w" d="M361.2,188.6 L349.7,186.1 L339.9,231.7 L351.4,234.2Z"/>
<path class="s" d="M361.2,188.6 L349.7,186.1"/>
<path class="s" d="M351.4,234.2 L339.9,231.7"/>
<ellipse class="sf" cx="356.3" cy="211.4" rx="13.8" ry="23.3" transform="rotate(12 356.3 211.4)" />
<ellipse class="s" cx="356.3" cy="211.4" rx="11.6" ry="20" transform="rotate(12 356.3 211.4)" />
<ellipse class="s" cx="356.3" cy="211.6" rx="8.6" ry="14.8" transform="rotate(12 356.3 211.6)" />
<ellipse class="s" cx="356.3" cy="211.6" rx="6.3" ry="11" transform="rotate(12 356.3 211.6)" />
<ellipse class="s" cx="356.3" cy="211.6" rx="4.3" ry="7.6" transform="rotate(12 356.3 211.6)" />
<circle class="sf" cx="358.6" cy="198" r="2.1"/>
<circle class="sf" cx="350.2" cy="225.6" r="2.1"/>
</g>
<g id="pin28" transform="translate(330 145) scale(0.08)" style="stroke-width:15.6">
<path class="sf" style="stroke-width:15.6" d="M230,105 C160,120 100,220 108,310 C112,370 135,405 160,410 L400,500 L430,482 L700,580 C760,590 820,540 830,450 C835,390 815,360 790,355 L520,255 L500,215 Z"/>
<path class="s" style="stroke-width:17" d="M275,122 C210,140 150,230 155,315 C158,370 170,400 185,418"/>
<path class="s" style="stroke-width:14" d="M500,215 C420,230 350,320 352,400 C355,460 380,495 400,500 M520,240 C450,255 390,335 392,405 C394,450 410,478 430,482"/>
<ellipse class="sf" style="stroke-width:14" cx="752" cy="465" rx="76" ry="116" transform="rotate(18 752 465)"/>
<ellipse class="s" style="stroke-width:12" cx="755" cy="467" rx="56" ry="90" transform="rotate(18 755 467)"/>
<ellipse class="s" style="stroke-width:12" cx="758" cy="470" rx="34" ry="52" transform="rotate(18 758 470)"/>
<ellipse class="s" style="stroke-width:12" cx="760" cy="472" rx="16" ry="27" transform="rotate(18 760 472)"/>
</g>
<g id="pins25">
<g transform="rotate(-28 355.5 73)"><rect class="sf" x="352.9" y="66.5" width="5.2" height="13" rx="2.4"/><ellipse class="s" cx="355.5" cy="68.4" rx="2.6" ry="1.6"/></g>
<g transform="rotate(-28 428.5 70)"><rect class="sf" x="425.9" y="63.5" width="5.2" height="13" rx="2.4"/><ellipse class="s" cx="428.5" cy="65.4" rx="2.6" ry="1.6"/></g>
</g>
<g id="shells" transform="translate(240 245) scale(0.12755)" style="stroke-width:9.8">
<path class="sf" style="stroke-width:9.8" d="M75,350 C85,230 150,90 260,60 L440,120 C500,130 535,190 535,250 L500,243 L355,192 C310,240 275,330 270,420 L245,415 Z"/>
<path class="s" style="stroke-width:15" d="M265,420 C270,300 330,170 440,122"/>
<path class="s" style="stroke-width:8" d="M248,412 C255,290 320,150 425,116 M445,138 C480,145 512,190 514,244"/>
<ellipse class="s" style="stroke-width:9" cx="170" cy="345" rx="17" ry="22" transform="rotate(-20 170 345)"/>
<path class="sf" style="stroke-width:9.8" d="M80,490 L100,482 L270,535 C280,470 320,400 350,315 L530,382 C535,500 450,660 300,682 C200,680 100,600 80,490 Z"/>
<path class="s" style="stroke-width:8" d="M82,494 L256,550 M258,548 C262,620 300,668 352,672 M270,535 C272,600 305,650 352,660 M310,668 C420,650 505,520 515,392"/>
</g>
<g id="filter">
<ellipse class="sf" cx="167" cy="368" rx="37" ry="19.5" />
<ellipse class="sf" cx="167" cy="366" rx="37" ry="19.5" />
<ellipse cx="167" cy="365" rx="34" ry="16.2" fill="#0c0c0c"/>
<path d="M140,357 C150,351 185,351 196,358" fill="none" stroke="#999" stroke-width="1" stroke-dasharray="1 1.2"/>
<ellipse class="sf" cx="168" cy="409.5" rx="43" ry="22.5" />
<ellipse class="s" cx="168" cy="409.5" rx="41" ry="20.8" />
<g transform="translate(105 430) scale(0.125)" style="stroke-width:11.5">
<path class="sf" style="stroke-width:11.5" d="M55,360 L100,338 L140,325 L185,290 L830,290 L862,330 L885,368 Q905,390 895,415 L880,440 L830,472 L762,520 L760,562 L745,590 L700,610 L620,600 L500,612 L400,606 L280,582 L200,532 L150,472 L90,442 L50,420 Z"/>
<path class="s" style="stroke-width:10.5" d="M58,398 L150,440 L215,500 L300,550 L420,580 L620,578 L742,558 M160,330 C160,400 200,470 300,520 C430,570 600,570 700,522 C800,470 850,400 850,330"/>
<path class="s" style="stroke-width:10.5" d="M140,330 C140,410 185,480 290,535 C420,590 610,590 715,540"/>
<ellipse class="s" style="stroke-width:10.5" cx="110" cy="368" rx="28" ry="15" transform="rotate(-12 110 368)"/>
<ellipse class="s" style="stroke-width:10.5" cx="700" cy="532" rx="28" ry="15" transform="rotate(-8 700 532)"/>
<path class="s" style="stroke-width:10.5" d="M285,548 L350,565 L365,580 L362,600 L300,588 L285,570 Z M350,565 L348,590"/>
<path class="sf" style="stroke-width:11.5" d="M185,217 L200,400 C230,480 380,532 505,532 C640,532 780,480 810,400 L825,217 Z"/>
<ellipse class="sf" style="stroke-width:11.5" cx="505" cy="217" rx="320" ry="160"/>
<ellipse class="s" style="stroke-width:10.5" cx="505" cy="217" rx="298" ry="140"/>
<ellipse class="s" style="stroke-width:10.5" cx="505" cy="212" rx="272" ry="120"/>
<path class="s" style="stroke-width:10.5" d="M245,262 C300,330 400,345 505,345 C610,345 710,330 765,262 M262,290 C320,350 420,362 505,362 C590,362 690,350 748,290"/>
<path class="s" style="stroke-width:10.5" d="M250,270 L398,272 M258,296 L400,296 M612,272 L760,270 M610,296 L752,296"/>
<path class="sf" style="stroke-width:10.5" d="M395,265 L398,322 C420,360 580,360 608,322 L610,265 Z"/>
<ellipse class="sf" style="stroke-width:10.5" cx="502" cy="265" rx="106" ry="50"/>
<ellipse class="s" style="stroke-width:10.5" cx="502" cy="266" rx="50" ry="22"/>
<path class="s" style="stroke-width:10.5" d="M490,205 L490,352 M520,205 L520,352"/>
<path class="s" style="stroke-width:10.5" d="M380,128 Q435,135 436,160 Q432,186 395,186 M630,128 Q575,135 574,160 Q578,186 615,186"/>
</g>
<path class="sf" d="M154,525 L154,529.5 Q155,536.5 169.5,536.5 Q184,536.5 185,529.5 L185,525 Z"/>
<ellipse class="sf" cx="169.5" cy="525" rx="15.5" ry="7" />
<ellipse class="s" cx="169.5" cy="525" rx="8.6" ry="3.8" />
</g>
<path class="dd" d="M168,336 L168,476" style="stroke:#444;stroke-width:1"/>
<g transform="rotate(18 273 467.5)"><path class="sf" d="M266.0,461.0 L280.0,461.0 L280.0,474.0 L266.0,474.0 A3.25,6.5 0 0 1 266.0,461.0Z"/><ellipse class="sf" cx="280.0" cy="467.5" rx="3.25" ry="6.5"/></g>
<g transform="rotate(20 746 233.5)"><path class="sf" d="M739.25,227.7 L752.75,227.7 L752.75,239.3 L739.25,239.3 A2.9,5.8 0 0 1 739.25,227.7Z"/><ellipse class="sf" cx="752.75" cy="233.5" rx="2.9" ry="5.8"/></g>
<g transform="rotate(20 705.5 351.5)"><path class="sf" d="M698.75,345.7 L712.25,345.7 L712.25,357.3 L698.75,357.3 A2.9,5.8 0 0 1 698.75,345.7Z"/><ellipse class="sf" cx="712.25" cy="351.5" rx="2.9" ry="5.8"/></g>
<ellipse class="sf" cx="774.4" cy="144.6" rx="12.5" ry="4.6" transform="rotate(14 774.4 144.6)" />
<ellipse class="sf" cx="774.4" cy="143.4" rx="12.5" ry="4.6" transform="rotate(14 774.4 143.4)" />
<ellipse class="s" cx="774.4" cy="143.4" rx="8" ry="2.4" transform="rotate(14 774.4 143.4)" />
<g id="dip">
<path class="sf" d="M711,206 L693,236 Q692,240 695,241 Q698,241.5 700,239 L718,209 Z"/>
<circle class="d" cx="702.5" cy="223" r="0.8"/><circle class="d" cx="696" cy="236" r="0.8"/>
<path class="sf" d="M708,194 Q708,200 712,204 Q718,208.5 724,207 Q729,206 731,199 Z"/>
<path class="s" d="M709.5,198.5 Q717,206 729,203.5 M711,202 Q718,207.5 727,205.5"/>
<ellipse class="sf" cx="725" cy="186.5" rx="19" ry="14.5" transform="rotate(28 725 186.5)" />
<ellipse class="sf" cx="726.4" cy="183.6" rx="18.6" ry="14" transform="rotate(28 726.4 183.6)" />
<ellipse class="s" cx="726.4" cy="183.6" rx="16.5" ry="12" transform="rotate(28 726.4 183.6)" />
<path class="s" d="M716,176 L737,194"/>
</g>
<ellipse class="sf" cx="685" cy="256" rx="15.8" ry="12.2" transform="rotate(22 685 256)" />
<ellipse class="s" cx="685" cy="256" rx="11.8" ry="8.8" transform="rotate(22 685 256)" />
<ellipse class="sf" cx="662.5" cy="464.5" rx="7" ry="10.2" transform="rotate(8 662.5 464.5)" />
<ellipse class="s" cx="662.5" cy="464.5" rx="5.3" ry="8.4" transform="rotate(8 662.5 464.5)" />
<g id="sensor">
<path class="sf" d="M722.5,457 L724,440 L727.5,422.5 L740,390 L760,347.5 Q770,330 782.5,317.5 Q794,306 805,305 Q815,305 820,311 Q827,320 830,331 L834.5,339 L829,341 L824,334 Q821,322 815,317.5 Q810,312 804,312.5 Q795,314 786,324 Q775,336 765,352.5 L745.5,392.5 L731.5,435 L730,457 Z"/>
<g transform="translate(650 440) scale(0.10638)" style="stroke-width:11.8">
<path class="sf" style="stroke-width:11.8" d="M560,290 C500,380 440,480 428,560 Q425,612 470,635 Q500,640 525,618 L612,528 L640,420 Z"/>
<path class="s" style="stroke-width:10" d="M592,322 C540,400 490,480 470,545"/>
<ellipse class="s" style="stroke-width:10" cx="505" cy="576" rx="21" ry="35" transform="rotate(25 505 576)"/>
<path class="sf" style="stroke-width:11.8" d="M255,190 C210,210 185,270 192,315 Q198,345 215,350 L330,400 L345,420 L430,447 L560,300 L480,265 L400,235 Z"/>
<path class="s" style="stroke-width:10" d="M372,245 C340,290 325,350 332,400 M410,250 C385,300 372,360 380,415"/>
<path class="s" style="stroke-width:16" d="M472,270 C440,320 420,380 424,440"/>
<path class="sf" style="stroke-width:11.8" d="M600,210 L690,188 L800,225 L795,400 Q785,480 730,535 Q700,550 680,540 L590,510 L560,470 Z"/>
<path class="s" style="stroke-width:10" d="M600,210 L720,250 L800,225 M720,250 L715,300 C700,360 670,420 665,480 Q665,520 685,538 M718,298 L796,285"/>
<path class="sf" style="stroke-width:11.8" d="M660,150 L700,135 L745,160 L742,215 L700,232 L663,202 Z"/>
<path d="M612,592 L690,585 L692,600 Z" fill="#111"/>
</g>
<g transform="translate(810 320) scale(0.08518)" style="stroke-width:17;stroke:#141414;stroke-linejoin:round;stroke-linecap:round">
<path d="M165,415 L330,150 L440,200 L525,245 L555,340 L390,590 L245,535 L228,488 Z" fill="#fff"/>
<path d="M350,470 L522,248 L555,340 L390,590 Z" fill="#1b1b1b"/>
<path d="M180,372 L300,432 L440,200 M300,432 L312,470 M165,415 L312,470 L350,470 L522,248 M228,488 L350,520 L390,590 M350,470 L350,520" fill="none"/>
<path d="M270,520 Q300,505 330,540" fill="none" style="stroke-width:12"/>
<path d="M385,520 L395,555 M425,470 L437,505 M455,425 L470,465 M495,375 L507,410" fill="none" style="stroke:#fff;stroke-width:14"/>
<path d="M100,0 L210,200 Q205,250 245,305 L325,335 Q362,285 335,215 L295,150 L190,0 Z" fill="#fff" stroke="none"/>
<path d="M100,0 L210,200 Q205,250 245,305 L325,335 Q362,285 335,215 L295,150 L190,0" fill="none"/>
<path d="M215,215 Q265,230 300,170 M228,262 Q290,272 330,225 M245,303 Q300,318 345,268" fill="none"/>
</g>
<circle class="d" cx="857.5" cy="367.5" r="0.9"/>
</g>
<g id="pin29" transform="translate(575 455) scale(0.0752)" style="stroke-width:16.6">
<path class="sf" style="stroke-width:16.6" d="M240,175 C175,190 125,270 128,340 C132,400 160,435 200,442 L340,495 L400,495 L690,576 C740,590 780,540 785,480 C788,440 775,420 760,415 L475,300 L470,268 L440,245 Z"/>
<path class="s" style="stroke-width:22" d="M215,185 C165,215 135,280 140,345 C144,395 165,428 195,438"/>
<path class="s" style="stroke-width:14" d="M440,245 C370,270 325,340 328,410 C332,465 360,495 400,495 M475,290 C415,310 375,365 378,420 C380,455 395,478 415,482"/>
<path class="s" style="stroke-width:20" d="M700,392 C660,420 640,470 645,520 C648,545 660,562 675,570"/>
<path class="s" style="stroke-width:14" d="M735,405 C695,435 675,480 680,530 C683,555 695,570 710,578"/>
</g>
<g id="labels">
<text x="382.8" y="52" font-size="19.5" letter-spacing="1.4">25</text>
<path class="l" d="M378,55 L360.5,67"/>
<path class="l" d="M406,54 L424,66"/>
<text x="291" y="92.5" font-size="19.5" letter-spacing="1.4">12</text>
<path class="l" d="M316,96 L337,108"/><circle class="d" cx="337" cy="108" r="2"/>
<text x="279.5" y="132.5" font-size="19.5" letter-spacing="0.9">18</text>
<path class="l" d="M277,137.5 L246,173"/><circle class="d" cx="246" cy="173" r="2"/>
<text x="376.5" y="144" font-size="19.5" letter-spacing="2.0">28</text>
<path class="l" d="M378.8,147.4 L366.4,177.8"/><circle class="d" cx="366.4" cy="177.8" r="2"/>
<text x="289.8" y="199.5" font-size="19.5" letter-spacing="2.2">13</text>
<path class="l" d="M318,197.5 L338,201.5"/><circle class="d" cx="338" cy="201.5" r="2"/>
<text x="286.5" y="235" font-size="19.5" letter-spacing="2.2">26</text>
<path class="l" d="M294,237 L278.3,266"/><circle class="d" cx="278.3" cy="266" r="2"/>
<text x="283" y="375.5" font-size="19.5" letter-spacing="1.3">27</text>
<path class="l" d="M292.5,358 L285.7,325.6"/><circle class="d" cx="285.7" cy="325.6" r="2"/>
<text x="201" y="304.5" font-size="19.5" letter-spacing="1.5">11</text>
<path class="l" d="M213,290 L218.8,269.2"/><circle class="d" cx="218.8" cy="269.2" r="2"/>
<text x="65.1" y="296.5" font-size="19.5" letter-spacing="0">9</text>
<path class="l" d="M84,281 L102.8,257"/><circle class="d" cx="102.8" cy="257" r="2"/>
<text x="96.3" y="307" font-size="19.5" letter-spacing="1.0">10</text>
<path class="l" d="M116,291 L132.2,266.5"/><circle class="d" cx="132.2" cy="266.5" r="2"/>
<text x="456.4" y="147.5" font-size="19.5" letter-spacing="0">4</text>
<path class="l" d="M466,150 L481,179"/><circle class="d" cx="481" cy="179" r="2"/>
<text x="773.8" y="216" font-size="19.5" letter-spacing="2.4">15</text>
<path class="l" d="M771,204 L737,190"/><circle class="d" cx="737" cy="190" r="2"/>
<text x="691.8" y="307" font-size="19.5" letter-spacing="2.3">14</text>
<path class="l" d="M698,288 L691,265.6"/><circle class="d" cx="691" cy="265.6" r="2"/>
<text x="747.1" y="310" font-size="19.5" letter-spacing="0">3</text>
<path class="l" d="M751,291 L743.6,235"/><circle class="d" cx="743.6" cy="235" r="2"/>
<path class="l" d="M745,313 L708,350"/><circle class="d" cx="708" cy="350" r="2"/>
<text x="770.1" y="418.5" font-size="19.5" letter-spacing="0">2</text>
<path class="l" d="M769,416 L730,430"/><circle class="d" cx="730" cy="430" r="2"/>
<text x="678" y="422.5" font-size="19.5" letter-spacing="0">1</text>
<path class="l" d="M681,425 L666,455"/>
<text x="553.3" y="529.5" font-size="19.5" letter-spacing="0.8">29</text>
<path class="l" d="M576,508 L596.8,486.2"/><circle class="d" cx="596.8" cy="486.2" r="2"/>
<text x="535.3" y="620" font-size="19.5" letter-spacing="1.6">30</text>
<path class="l" d="M546,602 L520,554"/><circle class="d" cx="520" cy="554" r="2"/>
<text x="263.1" y="515.5" font-size="19.5" letter-spacing="0">8</text>
<path class="l" d="M269,497.5 L272.5,471"/><circle class="d" cx="272.5" cy="471" r="2"/>
<text x="61.8" y="372" font-size="19.5" letter-spacing="1.6">19</text>
<path class="l" d="M89,364.5 L132,365"/><circle class="d" cx="132" cy="365" r="2"/>
<text x="63" y="412.3" font-size="19.5" letter-spacing="2.0">20</text>
<path class="l" d="M88,405.5 L126.5,406"/><circle class="d" cx="126.5" cy="406" r="2"/>
<text x="66" y="484.5" font-size="19.5" letter-spacing="1.8">21</text>
<path class="l" d="M89.5,478 L113.2,480.6"/><circle class="d" cx="113.2" cy="480.6" r="2"/>
<text x="66.5" y="525.5" font-size="19.5" letter-spacing="2.2">22</text>
<path class="l" d="M91,519 L156,525"/><circle class="d" cx="156" cy="525" r="2"/>
</g>
<rect x="278" y="118" width="13.2" height="17" fill="#fff"/>
<path d="M246.5,106.5 L283.5,106.5 L283.5,99.5 L322.5,115 L283.5,131 L283.5,123 L246.5,123 Z" fill="#e3242b"/>
</svg>
</body></html>
